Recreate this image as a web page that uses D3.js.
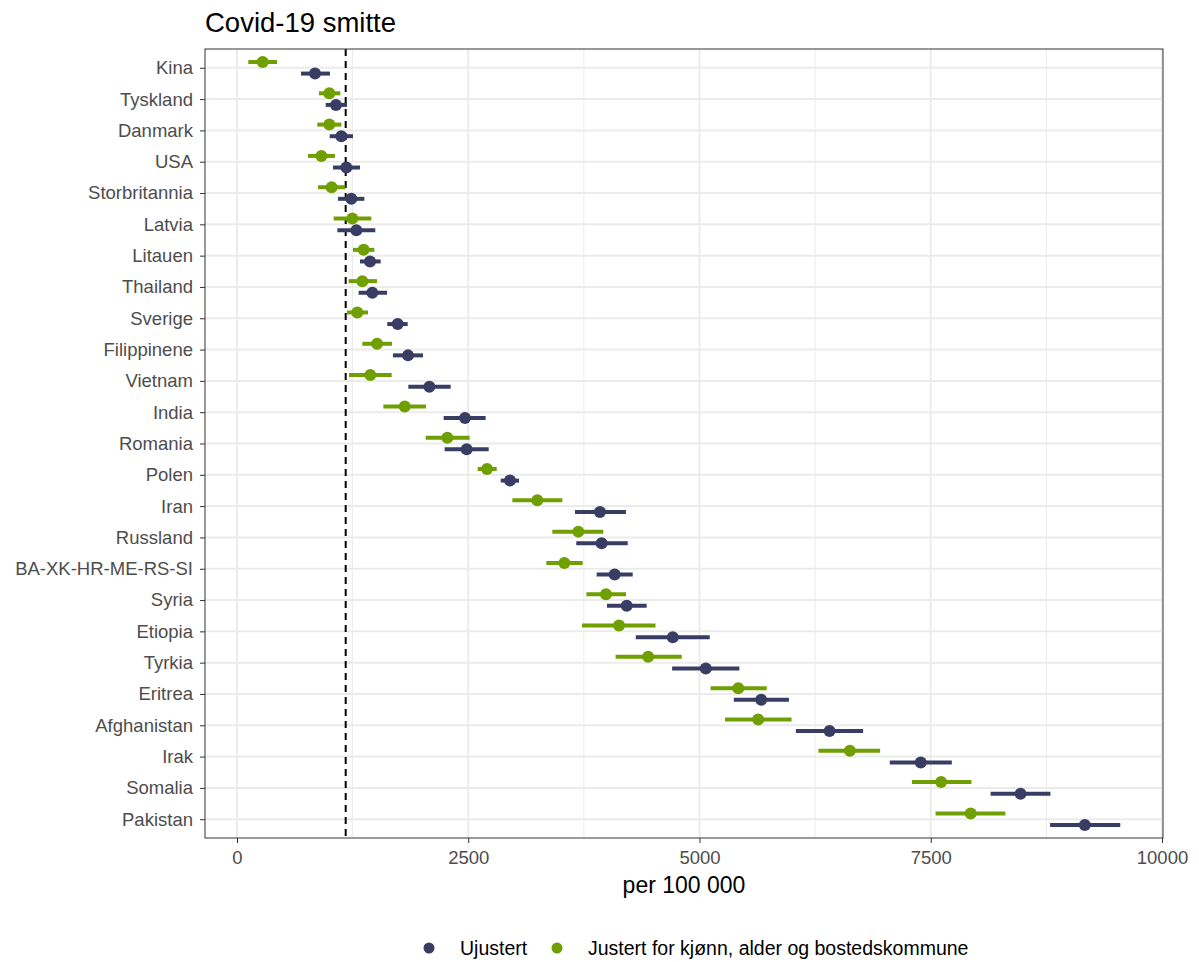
<!DOCTYPE html>
<html>
<head>
<meta charset="utf-8">
<script src="https://cdn.jsdelivr.net/npm/d3@7"></script>
<style>
  body { margin: 0; background: #fff; }
  text { font-family: Arial, "Liberation Sans", sans-serif; }
</style>
</head>
<body>
<div class="chart"></div>
<script>
var countries = ["Kina", "Tyskland", "Danmark", "USA", "Storbritannia", "Latvia", "Litauen",
  "Thailand", "Sverige", "Filippinene", "Vietnam", "India", "Romania", "Polen", "Iran",
  "Russland", "BA-XK-HR-ME-RS-SI", "Syria", "Etiopia", "Tyrkia", "Eritrea", "Afghanistan",
  "Irak", "Somalia", "Pakistan"];

// Ujustert
var rawMid  = [843, 1070, 1128, 1182, 1236, 1290, 1438, 1463, 1737, 1849, 2080, 2465, 2483, 2951, 3924, 3942, 4083, 4213, 4711, 5068, 5667, 6406, 7392, 8471, 9166];
var rawLow  = [692, 959, 1002, 1038, 1092, 1085, 1330, 1315, 1625, 1686, 1852, 2234, 2245, 2851, 3654, 3668, 3888, 4000, 4311, 4704, 5371, 6042, 7057, 8147, 8790];
var rawHigh = [1005, 1189, 1254, 1330, 1377, 1495, 1553, 1622, 1845, 2011, 2310, 2688, 2721, 3049, 4205, 4224, 4278, 4429, 5111, 5431, 5967, 6769, 7728, 8794, 9549];

// Justert for kjønn, alder og bostedskommune
var adjMid  = [277, 998, 998, 912, 1023, 1247, 1369, 1355, 1301, 1514, 1441, 1813, 2274, 2703, 3247, 3690, 3539, 3989, 4130, 4445, 5419, 5635, 6626, 7612, 7932];
var adjLow  = [122, 886, 868, 768, 876, 1045, 1254, 1207, 1189, 1355, 1211, 1582, 2040, 2602, 2977, 3409, 3344, 3777, 3730, 4093, 5120, 5276, 6286, 7297, 7552];
var adjHigh = [432, 1117, 1128, 1059, 1171, 1452, 1485, 1514, 1416, 1676, 1672, 2043, 2515, 2808, 3517, 3960, 3737, 4205, 4524, 4808, 5727, 5995, 6953, 7940, 8307];

var xTicks = [0, 2500, 5000, 7500, 10000];
var xMinor = [1250, 3750, 6250, 8750];
var reference = 1175;

var seriesNames = ["Ujustert", "Justert for kjønn, alder og bostedskommune"];
var colors = ["#393d64", "#6f9f00"];

var series = [
  { name: seriesNames[0], color: colors[0], offset: 5.8, mid: rawMid, low: rawLow, high: rawHigh },
  { name: seriesNames[1], color: colors[1], offset: -5.8, mid: adjMid, low: adjLow, high: adjHigh }
];

var panelLeft = 205, panelTop = 49, panelRight = 1163, panelBottom = 838;

var svg = d3.select(".chart").append("svg")
    .attr("width", 1199)
    .attr("height", 962);

var x = d3.scaleLinear()
    .domain([-346, 10011])
    .range([panelLeft, panelRight]);

var y = d3.scalePoint()
    .domain(countries)
    .range([panelTop, panelBottom])
    .padding(0.6);

// grid
svg.append("g").selectAll("line")
    .data(xMinor)
  .enter().append("line")
    .attr("x1", d => x(d)).attr("x2", d => x(d))
    .attr("y1", panelTop).attr("y2", panelBottom)
    .style("stroke", "#ebebeb")
    .style("stroke-width", 1);

svg.append("g").selectAll("line")
    .data(xTicks)
  .enter().append("line")
    .attr("x1", d => x(d)).attr("x2", d => x(d))
    .attr("y1", panelTop).attr("y2", panelBottom)
    .style("stroke", "#ebebeb")
    .style("stroke-width", 2);

svg.append("g").selectAll("line")
    .data(countries)
  .enter().append("line")
    .attr("x1", panelLeft).attr("x2", panelRight)
    .attr("y1", d => y(d)).attr("y2", d => y(d))
    .style("stroke", "#ebebeb")
    .style("stroke-width", 2);

// reference line
svg.append("line")
    .attr("x1", x(reference)).attr("x2", x(reference))
    .attr("y1", panelTop).attr("y2", panelBottom)
    .style("stroke", "black")
    .style("stroke-width", 2)
    .style("stroke-dasharray", "7,5");

// error bars + points
series.forEach(function(s) {
  var g = svg.append("g");
  g.selectAll("line")
      .data(countries)
    .enter().append("line")
      .attr("x1", (d, i) => x(s.low[i]))
      .attr("x2", (d, i) => x(s.high[i]))
      .attr("y1", d => y(d) + s.offset)
      .attr("y2", d => y(d) + s.offset)
      .style("stroke", s.color)
      .style("stroke-width", 4);
  g.selectAll("circle")
      .data(countries)
    .enter().append("circle")
      .attr("cx", (d, i) => x(s.mid[i]))
      .attr("cy", d => y(d) + s.offset)
      .attr("r", 6)
      .style("fill", s.color);
});

// panel border
svg.append("rect")
    .attr("x", panelLeft).attr("y", panelTop)
    .attr("width", panelRight - panelLeft).attr("height", panelBottom - panelTop)
    .style("fill", "none")
    .style("stroke", "#333333")
    .style("stroke-width", 1);

// axes
var xAxis = svg.append("g")
    .attr("transform", "translate(0," + panelBottom + ")")
    .call(d3.axisBottom(x).tickValues(xTicks).tickFormat(d3.format("d")).tickSizeOuter(0).tickSize(5).tickPadding(8));

var yAxis = svg.append("g")
    .attr("transform", "translate(" + panelLeft + ",0)")
    .call(d3.axisLeft(y).tickSizeOuter(0).tickSize(5).tickPadding(7));

[xAxis, yAxis].forEach(function(a) {
  a.select(".domain").remove();
  a.selectAll(".tick line").style("stroke", "#333333").style("stroke-width", 1);
  a.selectAll(".tick text")
      .style("font-size", "18.5px")
      .style("fill", "#4d4d4d");
});

svg.append("text")
    .text("Covid-19 smitte")
    .attr("x", panelLeft)
    .attr("y", 31.5)
    .style("font-size", "27.5px")
    .style("fill", "black");

svg.append("text")
    .text("per 100 000")
    .attr("x", (panelLeft + panelRight) / 2)
    .attr("y", 893)
    .attr("text-anchor", "middle")
    .style("font-size", "23px")
    .style("fill", "black");

// legend
var legend = svg.append("g").attr("transform", "translate(0,948)");
var legendX = [429, 557];
series.forEach(function(s, i) {
  legend.append("circle")
      .attr("cx", legendX[i]).attr("cy", 0).attr("r", 5.5)
      .style("fill", s.color);
  legend.append("text")
      .text(s.name)
      .attr("x", legendX[i] + 31).attr("y", 0)
      .attr("dy", "0.35em")
      .style("font-size", "19.5px")
      .style("fill", "black");
});
</script>
</body>
</html>
